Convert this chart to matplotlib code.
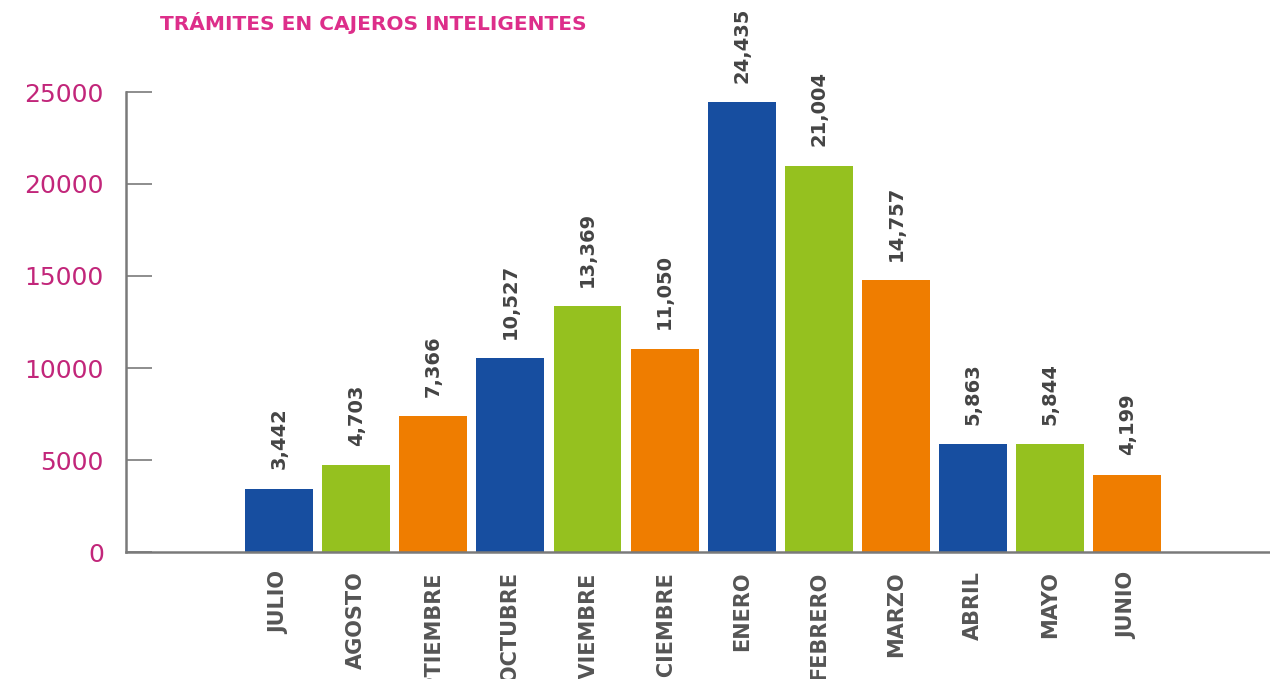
import matplotlib
matplotlib.use("Agg")
import matplotlib.pyplot as plt

months = ["JULIO", "AGOSTO", "SEPTIEMBRE", "OCTUBRE", "NOVIEMBRE", "DICIEMBRE",
          "ENERO", "FEBRERO", "MARZO", "ABRIL", "MAYO", "JUNIO"]
values = [3442, 4703, 7366, 10527, 13369, 11050, 24435, 21004, 14757, 5863, 5844, 4199]
yticks = [0, 5000, 10000, 15000, 20000, 25000]
title = "TRÁMITES EN CAJEROS INTELIGENTES"

palette = ["#174ea0", "#95c11f", "#ef7d00"]
colors = [palette[i % 3] for i in range(len(values))]

plt.rcParams['font.family'] = ['DejaVu Sans']

fig = plt.figure(figsize=(12.7, 6.79), dpi=100)
ax = fig.add_axes([126/1270, 1 - 552/679, 1 - 126/1270, (552 - 92)/679])

x = list(range(len(values)))
ax.bar(x, values, width=0.88, color=colors, zorder=2)

ax.set_xlim(-1.985, 12.85)
ax.set_ylim(0, 25000)

for xi, v in zip(x, values):
    ax.annotate(f"{v:,}", (xi, v), xytext=(0, 14), textcoords="offset points",
                rotation=90, ha="center", va="bottom", fontsize=14,
                fontweight="bold", color="#444444", annotation_clip=False)

ax.set_xticks(x)
ax.set_xticklabels(months, rotation=90, fontsize=15, fontweight="bold",
                   color="#555555", va="top")
ax.tick_params(axis="x", length=0, pad=14)

ax.set_yticks(yticks)
ax.set_yticklabels([str(t) for t in yticks], fontsize=18, color="#c2267a")
ax.tick_params(axis="y", direction="in", length=19, width=1.2, color="#7a7a7a", pad=16)

for s in ["top", "right"]:
    ax.spines[s].set_visible(False)
for s in ["left", "bottom"]:
    ax.spines[s].set_color("#7a7a7a")
    ax.spines[s].set_linewidth(1.8)

fig.text(160/1270, 1 - 23/679, title, fontsize=14.5, fontweight="heavy",
         color="#dd2e8a", ha="left", va="center")

fig.savefig("out.png", dpi=100, facecolor="white")
